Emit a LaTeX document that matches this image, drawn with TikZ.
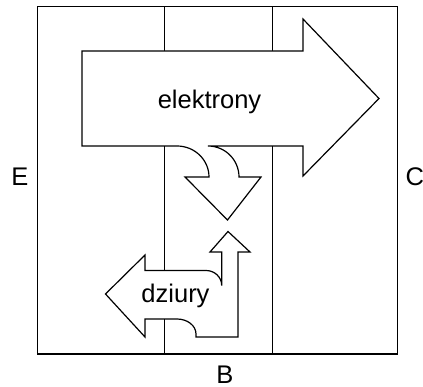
\documentclass[tikz,border=0pt]{standalone}
\usepackage{fontspec}
\setmainfont{Liberation Sans}

\begin{document}
\begin{tikzpicture}[
  x=1pt, y=-1pt,
  font=\fontsize{25.5}{30}\selectfont,
  wall/.style={draw, line width=1.2pt},
  flow/.style={draw, fill=white, line width=1.2pt},
  lbl/.style={anchor=base, inner sep=0pt},
]
\useasboundingbox (0,0) rectangle (423,387);

\draw[wall] (37.5,6.7) rectangle (397.5,354);
\draw[wall] (164.3,6.7) -- (164.3,354);
\draw[wall] (272.3,6.7) -- (272.3,354);

\path[flow] (82,51) -- (303,51) -- (303,19) -- (379,98.5) -- (303,176) -- (303,146)
  -- (208,146) .. controls (225.1,146) and (239,159.9) .. (239,177)
  -- (261,177) -- (227.5,220) -- (185,177) -- (209,177)
  .. controls (209,159.9) and (194.7,146) .. (177,146) -- (82,146) -- cycle;

\path[flow] (105.5,294) -- (145,255) -- (145,270.5) -- (206,270.5)
  .. controls (214.7,270.5) and (221.7,277.2) .. (221.7,285.5) -- (221.7,252)
  -- (210,252) -- (228,231.5) -- (250,252) -- (238,252) -- (238,337)
  -- (196,337) -- (196,334) .. controls (196,325.7) and (187.5,319) .. (177,319)
  -- (145,319) -- (145,337) -- cycle;

\node[lbl] (elektrony) at (209.5,108.3) {elektrony};
\node[lbl] (dziury) at (175.5,302.3) {dziury};
\node[lbl] (emiter) at (20,186) {E};
\node[lbl, anchor=base west] (kolektor) at (405.5,186) {C};
\node[lbl] (baza) at (225,383.3) {B};
\end{tikzpicture}
\end{document}
